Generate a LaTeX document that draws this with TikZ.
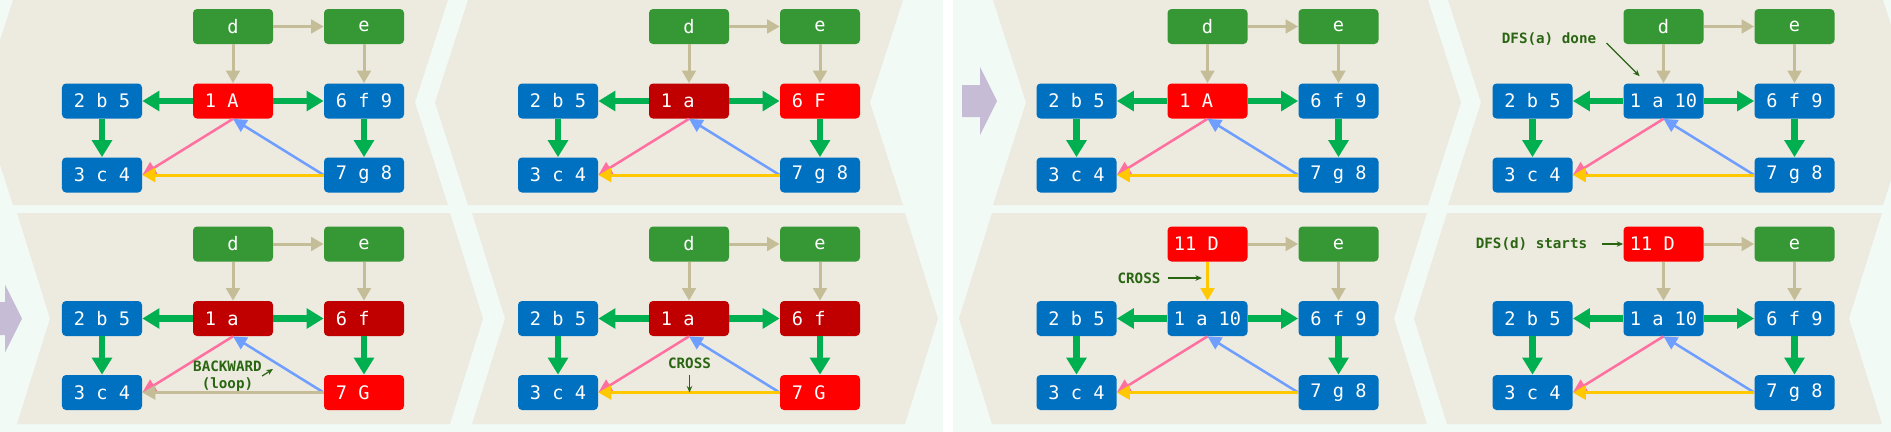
\documentclass[tikz,border=0pt]{standalone}
\usepackage{fontspec}
\newfontfamily\codefont{DejaVu Sans Mono}
\usetikzlibrary{arrows.meta}
\definecolor{mint}{RGB}{241,250,245}
\definecolor{sand}{RGB}{237,234,224}
\definecolor{lavender}{RGB}{198,188,214}
\definecolor{leafgreen}{RGB}{53,152,53}
\definecolor{ocean}{RGB}{0,112,192}
\definecolor{hotred}{RGB}{255,0,0}
\definecolor{wine}{RGB}{192,0,0}
\definecolor{khaki}{RGB}{196,189,151}
\definecolor{treegreen}{RGB}{0,176,80}
\definecolor{rose}{RGB}{255,112,160}
\definecolor{sky}{RGB}{110,158,255}
\definecolor{amber}{RGB}{255,200,0}
\definecolor{notegreen}{RGB}{42,102,18}

\tikzset{
  box/.style={rectangle, rounded corners=0.8mm, minimum width=16mm, minimum height=7mm,
    inner sep=0pt, text=white, font=\codefont\fontsize{10.6}{12}\selectfont},
  newbox/.style={box, fill=leafgreen},
  finbox/.style={box, fill=ocean},
  curbox/.style={box, fill=hotred},
  stackbox/.style={box, fill=wine},
  dnode/.style={newbox}, anode/.style={curbox}, fnode/.style={finbox}, gnode/.style={finbox},
  tanedge/.style={draw=khaki, line width=0.6mm, -{Triangle[length=2.5mm,width=2.7mm]}},
  treeedge/.style={draw=treegreen, line width=1.3mm, -{Triangle[length=3.4mm,width=3.9mm]}},
  fwdedge/.style={draw=rose, line width=0.5mm, -{Triangle[length=2.7mm,width=2.7mm]}},
  backedge/.style={draw=sky, line width=0.5mm, -{Triangle[length=2.7mm,width=2.7mm]}},
  crossedge/.style={draw=amber, line width=0.6mm, -{Triangle[length=2.6mm,width=2.8mm]}},
  daedge/.style={}, gcedge/.style={},
  note/.style={text=notegreen, font=\codefont\bfseries\fontsize{8.1}{9.5}\selectfont,
    align=center, inner sep=0pt},
  pointer/.style={draw=notegreen, line width=0.25mm, -{Stealth[length=1.3mm,width=1.1mm]}},
}

% one snapshot of the graph: texts of d, a, f, g
\newcommand{\dfsgraph}[4]{%
  \node[dnode] (d) at (233,26.5) {#1};
  \node[newbox] (e) at (364,26.5) {e};
  \node[finbox] (b) at (102,101) {2 b 5};
  \node[anode] (a) at (233,101) {#2};
  \node[fnode] (f) at (364,101) {#3};
  \node[finbox] (c) at (102,175) {3 c 4};
  \node[gnode] (g) at (364,175) {#4};
  \draw[tanedge] (d) -- (e);
  \draw[tanedge, daedge] (d) -- (a);
  \draw[tanedge] (e) -- (f);
  \draw[treeedge] (a) -- (b);
  \draw[treeedge] (a) -- (f);
  \draw[treeedge] (b) -- (c);
  \draw[treeedge] (f) -- (g);
  \draw[fwdedge] (a.south) -- (c.east);
  \draw[backedge] (g.west) -- (a.south);
  \draw[crossedge, gcedge] (g) -- (c);
}

\begin{document}
\begin{tikzpicture}[x=0.2mm, y=-0.2mm]
  \useasboundingbox (0,0) rectangle (1891,432);
  \clip (0,0) rectangle (1891,432);
  \fill[mint] (0,0) rectangle (1891,432);
  \fill[white] (943,0) rectangle (953,432);
  % chevron panels, left half
  \foreach \s in {0,455} {
    \fill[sand] (13+\s,0) -- (448+\s,0) -- (415+\s,102.5) -- (448+\s,205) -- (13+\s,205) -- (-20+\s,102.5) -- cycle;
    \fill[sand] (17+\s,213) -- (450+\s,213) -- (483+\s,318.5) -- (450+\s,424) -- (17+\s,424) -- (50+\s,318.5) -- cycle;
  }
  % chevron panels, right half
  \foreach \s in {0,455} {
    \fill[sand] (993+\s,0) -- (1428+\s,0) -- (1461+\s,102.5) -- (1428+\s,205) -- (993+\s,205) -- (1026+\s,102.5) -- cycle;
    \fill[sand] (992+\s,213) -- (1427+\s,213) -- (1394+\s,318.5) -- (1427+\s,424) -- (992+\s,424) -- (959+\s,318.5) -- cycle;
  }
  \fill[lavender] (-10,302) -- (5,302) -- (5,284.5) -- (22,318.5) -- (5,352.5) -- (5,335) -- (-10,335) -- cycle;
  \fill[lavender] (962,85) -- (980,85) -- (980,67) -- (997,101) -- (980,135) -- (980,117) -- (962,117) -- cycle;

  \begin{scope}
    \dfsgraph{d}{1 A\hphantom{00}}{6 f 9}{7 g 8}
  \end{scope}
  \begin{scope}[shift={(456,0)}, anode/.style={stackbox}, fnode/.style={curbox}]
    \dfsgraph{d}{1 a\hphantom{00}}{6 F\hphantom{00}}{7 g 8}
  \end{scope}
  \begin{scope}[shift={(0,217.5)}, anode/.style={stackbox}, fnode/.style={stackbox},
      gnode/.style={curbox}, gcedge/.style={draw=khaki}]
    \dfsgraph{d}{1 a\hphantom{00}}{6 f\hphantom{00}}{7 G\hphantom{00}}
    \node[note] (bw) at (227.5,158.5) {BACKWARD\\(loop)};
    \coordinate (bwtip) at (273,151.5);
    \draw[pointer] (bw.east) -- (bwtip);
  \end{scope}
  \begin{scope}[shift={(456,217.5)}, anode/.style={stackbox}, fnode/.style={stackbox},
      gnode/.style={curbox}]
    \dfsgraph{d}{1 a\hphantom{00}}{6 f\hphantom{00}}{7 G\hphantom{00}}
    \node[note] (cr) at (233.5,146) {CROSS};
    \draw[pointer, shorten <=1.2mm] (cr.south) -- (cr.south |- c.east);
  \end{scope}

  \begin{scope}[shift={(974.5,0)}]
    \dfsgraph{d}{1 A\hphantom{00}}{6 f 9}{7 g 8}
  \end{scope}
  \begin{scope}[shift={(1430.5,0)}, anode/.style={finbox}]
    \dfsgraph{d}{1 a 10}{6 f 9}{7 g 8}
    \node[note] (fin) at (118.5,39) {DFS(a) done};
    \draw[pointer] ([shift={(10,4)}]fin.east) -- ([shift={(16.5,-7)}]a.north west);
  \end{scope}
  \begin{scope}[shift={(974.5,217.5)}, dnode/.style={curbox}, anode/.style={finbox},
      daedge/.style={draw=amber}]
    \dfsgraph{11 D\hphantom{00}}{1 a 10}{6 f 9}{7 g 8}
    \node[note] (cr) at (164.5,60.5) {CROSS};
    \draw[pointer] ([xshift=1.5mm]cr.east) -- ([xshift=-1.1mm]cr.east -| a.north);
  \end{scope}
  \begin{scope}[shift={(1430.5,217.5)}, dnode/.style={curbox}, anode/.style={finbox}]
    \dfsgraph{11 D\hphantom{00}}{1 a 10}{6 f 9}{7 g 8}
    \node[note] (go) at (101,26.5) {DFS(d) starts};
    \draw[pointer] ([xshift=2.9mm]go.east) -- (d.west);
  \end{scope}
\end{tikzpicture}
\end{document}
